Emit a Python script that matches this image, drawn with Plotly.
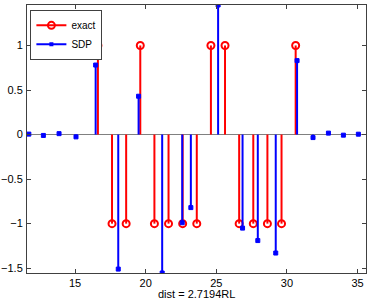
import plotly.graph_objects as go

# ---- data ----
exact_x = [16.62, 17.62, 18.62, 19.62, 20.62, 21.62, 22.62, 23.62, 24.62, 25.62,
           26.62, 27.62, 28.62, 29.62, 30.62]
exact_y = [1, -1, -1, 1, -1, -1, -1, -1, 1, 1, -1, -1, -1, -1, 1]

sdp_x = [11.73, 12.76, 13.87, 15.07, 16.46, 18.06, 19.50, 21.17, 22.59, 23.20,
         25.13, 26.86, 27.94, 29.21, 30.72, 31.85, 32.94, 34.00, 35.06]
sdp_y = [0.005, -0.01, 0.01, -0.026, 0.78, -1.51, 0.43, -1.554, -0.99, -0.82,
         1.454, -1.05, -1.19, -1.33, 0.83, -0.034, 0.016, -0.007, 0.004]

x_ticks = [15, 20, 25, 30, 35]
y_ticks = [-1.5, -1, -0.5, 0, 0.5, 1]
x_title = "dist = 2.7194RL"

RED = "#ff0000"
BLUE = "#0000ff"
FONT = "Liberation Sans, Arial, Helvetica"


def stems(xs, ys):
    sx, sy = [], []
    for x, y in zip(xs, ys):
        sx += [x, x, None]
        sy += [0, y, None]
    return sx, sy


fig = go.Figure()

ex, ey = stems(exact_x, exact_y)
fig.add_trace(go.Scatter(x=ex, y=ey, mode="lines", line=dict(color=RED, width=2),
                         showlegend=False, hoverinfo="skip"))
fig.add_trace(go.Scatter(x=exact_x, y=exact_y, mode="markers", showlegend=False,
                         marker=dict(symbol="circle-open", size=7, color=RED,
                                     line=dict(color=RED, width=2))))

sx, sy = stems(sdp_x, sdp_y)
fig.add_trace(go.Scatter(x=sx, y=sy, mode="lines", line=dict(color=BLUE, width=2),
                         showlegend=False, hoverinfo="skip"))
fig.add_trace(go.Scatter(x=sdp_x, y=sdp_y, mode="markers", showlegend=False,
                         marker=dict(symbol="square", size=4, color=BLUE,
                                     line=dict(color=BLUE, width=1))))

# legend entries
fig.add_trace(go.Scatter(x=[None], y=[None], mode="lines+markers", name="exact",
                         line=dict(color=RED, width=2),
                         marker=dict(symbol="circle-open", size=7, color=RED,
                                     line=dict(color=RED, width=2))))
fig.add_trace(go.Scatter(x=[None], y=[None], mode="lines+markers", name="SDP",
                         line=dict(color=BLUE, width=2),
                         marker=dict(symbol="square", size=4, color=BLUE)))

axis_common = dict(showline=True, linecolor="#404040", linewidth=1, mirror="ticks",
                   ticks="inside", ticklen=4, tickcolor="#404040", showgrid=False,
                   automargin=False,
                   tickfont=dict(family=FONT, size=11, color="#000"))

fig.update_xaxes(range=[11.6, 35.6], tickvals=x_ticks, zeroline=False, **axis_common)
fig.update_yaxes(range=[-1.554, 1.454], tickvals=y_ticks, zeroline=True,
                 zerolinecolor="#808080", zerolinewidth=1, ticklabelstandoff=1,
                 **axis_common)

fig.add_annotation(text=x_title, xref="paper", yref="paper", x=0.5, y=-21 / 268,
                   xanchor="center", yanchor="middle", showarrow=False,
                   font=dict(family=FONT, size=11, color="#000"))

fig.update_layout(
    width=382, height=301,
    margin=dict(l=27, r=16, t=5, b=28),
    plot_bgcolor="white", paper_bgcolor="white",
    showlegend=True,
    legend=dict(x=0.01, y=0.982, xanchor="left", yanchor="top",
                bgcolor="white", bordercolor="#404040", borderwidth=1,
                font=dict(family=FONT, size=10, color="#000"),
                itemwidth=30, tracegroupgap=0),
)

fig.write_html("out.html", config={"displayModeBar": False},
               post_script="document.body.style.margin='0';document.body.style.overflow='hidden';")
